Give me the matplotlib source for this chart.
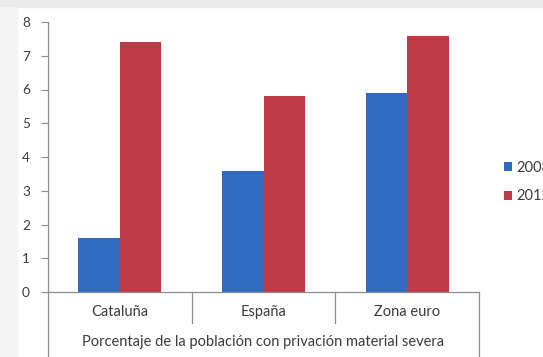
import matplotlib
matplotlib.use("Agg")
import matplotlib.pyplot as plt
from matplotlib.patches import Rectangle
from matplotlib.lines import Line2D
import numpy as np

categories = ["Cataluña", "España", "Zona euro"]
series_names = ["2008", "2012"]
values_2008 = [1.6, 3.6, 5.9]
values_2012 = [7.4, 5.8, 7.6]
y_ticks = [0, 1, 2, 3, 4, 5, 6, 7, 8]
group_title = "Porcentaje de la población con privación material severa"

W, H = 543, 357
fig = plt.figure(figsize=(W / 100, H / 100), dpi=100)
fig.patch.set_facecolor("white")

# light frame around the chart area
fig.patches.append(Rectangle((0, 1 - 7 / H), 1, 7 / H, transform=fig.transFigure,
                             color="#ebebeb", zorder=0))
fig.patches.append(Rectangle((0, 0), 17 / W, 1 - 7 / H, transform=fig.transFigure,
                             color="#f4f4f4", zorder=0))

ax = fig.add_axes([48 / W, (H - 292) / H, 431 / W, 270 / H])
ax.set_facecolor("white")

font = "Lato"
fs = 10.5
txt_color = "#3c3c3c"
axis_color = "#8c8c8c"
blue = "#2f6cc0"
red = "#bc3b46"

x = np.arange(len(categories))
bw = 0.29
ax.bar(x - bw / 2, values_2008, width=bw, color=blue, label=series_names[0], zorder=2)
ax.bar(x + bw / 2, values_2012, width=bw, color=red, label=series_names[1], zorder=2)

ax.set_xlim(-0.5, len(categories) - 0.5)
ax.set_ylim(0, 8)
ax.set_yticks(y_ticks)
ax.set_yticklabels([str(t) for t in y_ticks], fontfamily=font, fontsize=9.8,
                   color=txt_color)
ax.tick_params(axis="y", direction="out", length=5, width=0.8, color=axis_color, pad=8)
ax.set_xticks([])

for s in ["top", "right"]:
    ax.spines[s].set_visible(False)
for s in ["left", "bottom"]:
    ax.spines[s].set_color(axis_color)
    ax.spines[s].set_linewidth(0.9)

# category labels and divider lines of the two-level axis
trans = ax.get_xaxis_transform()
px = 1 / 270  # one pixel in axes fraction (vertical)
for i, c in enumerate(categories):
    ax.text(i, -20 * px, c, transform=trans, ha="center", va="center",
            fontfamily=font, fontsize=fs, color=txt_color)
for b in [0.5, 1.5]:
    ax.add_line(Line2D([b, b], [0, -31 * px], transform=trans, color=axis_color,
                       lw=0.9, clip_on=False))
for b in [-0.5, len(categories) - 0.5]:
    ax.add_line(Line2D([b, b], [0, -70 * px], transform=trans, color=axis_color,
                       lw=0.9, clip_on=False))
ax.text(1, -50 * px, group_title, transform=trans, ha="center", va="center",
        fontfamily=font, fontsize=fs, color=txt_color)

leg = ax.legend(loc="center left", bbox_to_anchor=(504 / W, 1 - 182 / H),
                bbox_transform=fig.transFigure, frameon=False,
                handlelength=0.55, handleheight=0.55, handletextpad=0.3,
                labelspacing=1.0, borderpad=0, borderaxespad=0,
                prop={"family": font, "size": fs})
for t in leg.get_texts():
    t.set_color(txt_color)

fig.savefig("out.png", dpi=100, facecolor=fig.get_facecolor())
